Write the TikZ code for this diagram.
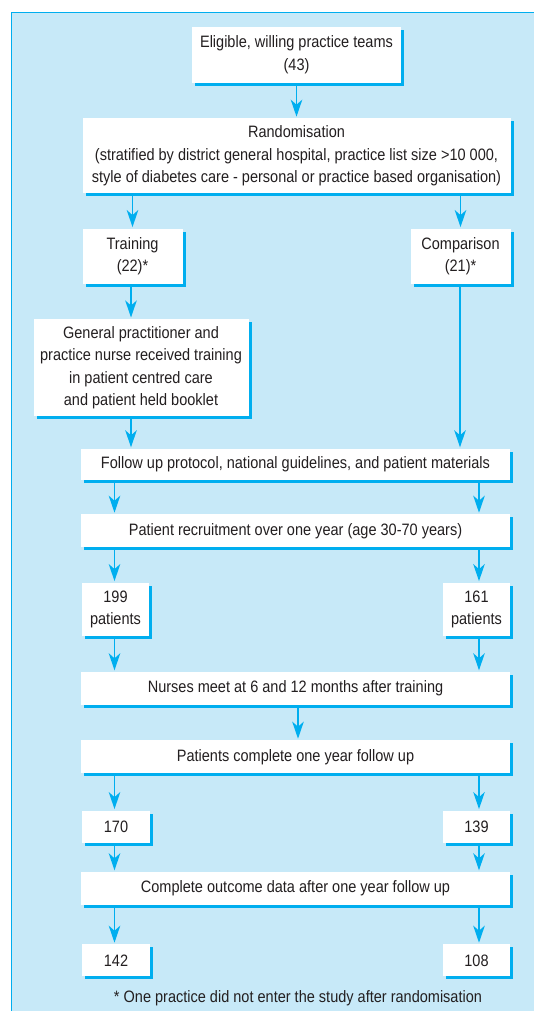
\documentclass[tikz,border=0pt]{standalone}
\usepackage{fontspec}
\setmainfont{Liberation Sans}[FakeStretch=0.88]
\usetikzlibrary{positioning, arrows.meta, shadows}
\definecolor{lineblue}{HTML}{00AEEF}
\definecolor{bgblue}{HTML}{C7E9F8}
\definecolor{txtcolor}{HTML}{231F20}

\begin{document}
\begin{tikzpicture}[x=1pt, y=1pt,
    box/.style={rectangle, fill=white, inner sep=0pt, align=center, text=txtcolor,
      font=\fontsize{16.5}{22.6}\selectfont,
      drop shadow={shadow xshift=3pt, shadow yshift=-3pt, fill=lineblue, opacity=1}},
    wide/.style={box, minimum width=429pt, minimum height=33pt},
    small/.style={box, minimum width=67pt, minimum height=32pt},
    arr/.style={-{Stealth[length=17pt, width=11.5pt, inset=5pt]}, draw=lineblue, line width=1.9pt, shorten >=1.5pt},
  ]
    \useasboundingbox (0,0) rectangle (533,-1011);
    \fill[bgblue, draw=lineblue, line width=1pt] (11.5,-12.5) rectangle (545,-1030);

    % arrow columns
    \coordinate (L) at (114.5,0);
    \coordinate (R) at (479,0);

    \node[box, minimum width=209pt, minimum height=56pt] (elig) at (296.5,-55) {Eligible, willing practice teams\\(43)};
    \node[box, minimum width=428pt, minimum height=75pt, below=35pt of elig] (rand) {Randomisation\\(stratified by district general hospital, practice list size >10 000,\\style of diabetes care - personal or practice based organisation)};
    \node[box, minimum width=100pt, minimum height=55pt, below=35pt of rand.south west, anchor=north west] (train) {Training\\(22)*};
    \node[box, minimum width=100pt, minimum height=55pt, below=35pt of rand.south east, anchor=north east] (comp) {Comparison\\(21)*};
    \node[box, minimum width=215pt, minimum height=97pt, below=35pt of train.south west, anchor=north west, xshift=-49pt] (gp) {General practitioner and\\practice nurse received training\\in patient centred care\\and patient held booklet};
    \node[wide, minimum height=31pt] (follow) at (295.5,-464.5) {Follow up protocol, national guidelines, and patient materials};
    \node[wide, below=34pt of follow] (recruit) {Patient recruitment over one year (age 30-70 years)};
    \node[box, minimum width=67pt, minimum height=53pt, below=35pt of recruit.south west, anchor=north west, xshift=1pt] (p199) {199\\patients};
    \node[box, minimum width=67pt, minimum height=53pt, below=35pt of recruit.south east, anchor=north east] (p161) {161\\patients};
    \node[wide] (nurses) at (295.5,-688.5) {Nurses meet at 6 and 12 months after training};
    \node[wide, below=35pt of nurses] (complete) {Patients complete one year follow up};
    \node[small, minimum width=68pt, below=37pt of complete.south west, anchor=north west, xshift=1pt] (n170) {170};
    \node[small, below=37pt of complete.south east, anchor=north east] (n139) {139};
    \node[wide] (outcome) at (295.5,-888.5) {Complete outcome data after one year follow up};
    \node[small, minimum width=68pt, below=39pt of outcome.south west, anchor=north west, xshift=1pt] (n142) {142};
    \node[small, below=39pt of outcome.south east, anchor=north east] (n108) {108};
    \node[text=txtcolor, font=\fontsize{16.5}{18}\selectfont] (note) at (298,-998) {* One practice did not enter the study after randomisation};

    \draw[arr] (elig) -- (rand);
    \draw[arr] (rand.south -| train) -- (train);
    \draw[arr] (rand.south -| comp) -- (comp);
    \draw[arr] (train.south -| 131,0) -- (gp.north -| 131,0);
    \draw[arr] (gp.south -| 131,0) -- (follow.north -| 131,0);
    \draw[arr] (comp.south -| 460,0) -- (follow.north -| 460,0);
    \draw[arr] (follow.south -| L) -- (recruit.north -| L);
    \draw[arr] (follow.south -| R) -- (recruit.north -| R);
    \draw[arr] (recruit.south -| L) -- (p199.north -| L);
    \draw[arr] (recruit.south -| R) -- (p161.north -| R);
    \draw[arr] (p199.south -| L) -- (nurses.north -| L);
    \draw[arr] (p161.south -| R) -- (nurses.north -| R);
    \draw[arr] (nurses.south -| 298,0) -- (complete.north -| 298,0);
    \draw[arr] (complete.south -| L) -- (n170.north -| L);
    \draw[arr] (complete.south -| R) -- (n139.north -| R);
    \draw[arr] (n170.south -| L) -- (outcome.north -| L);
    \draw[arr] (n139.south -| R) -- (outcome.north -| R);
    \draw[arr] (outcome.south -| L) -- (n142.north -| L);
    \draw[arr] (outcome.south -| R) -- (n108.north -| R);
  \end{tikzpicture}
\end{document}
